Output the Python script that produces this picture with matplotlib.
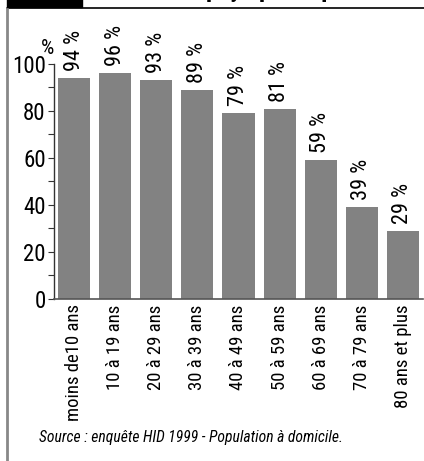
import matplotlib
matplotlib.use("Agg")
import matplotlib.pyplot as plt
from matplotlib import font_manager
from matplotlib.patches import Rectangle
from matplotlib.lines import Line2D

# Age groups and share of people (%)
categories = ["moins de10 ans", "10 à 19 ans", "20 à 29 ans", "30 à 39 ans",
              "40 à 49 ans", "50 à 59 ans", "60 à 69 ans", "70 à 79 ans",
              "80 ans et plus"]
values = [94, 96, 93, 89, 79, 81, 59, 39, 29]
yticks = [0, 20, 40, 60, 80, 100]
title = "Le coût est payé par le patient"
source = "Source : enquête HID 1999 - Population à domicile."

names = {f.name for f in font_manager.fontManager.ttflist}
narrow = "DejaVu Sans"
for cand in ["Liberation Sans Narrow", "Roboto Condensed", "Archivo Narrow",
             "PT Sans Narrow", "Pragati Narrow", "Open Sans Condensed"]:
    if cand in names:
        narrow = cand
        break
plt.rcParams["font.family"] = [narrow, "DejaVu Sans"]

W, H = 424, 461
fig = plt.figure(figsize=(W / 100, H / 100), dpi=100)

def fx(px):
    return px / W

def fy(py):
    return 1 - py / H

# frame: black tab, top rule, grey left rule
fig.patches.append(Rectangle((fx(7), fy(7.5)), fx(75), 7.5 / H + 0.01,
                             transform=fig.transFigure, color="black", zorder=5))
fig.lines.append(Line2D([fx(7), 1], [fy(8), fy(8)], transform=fig.transFigure,
                        color="black", lw=1.2))
fig.lines.append(Line2D([fx(7), fx(7)], [0, fy(8)], transform=fig.transFigure,
                        color="#888888", lw=2))
fig.text(fx(90), fy(-3), title, fontsize=18, fontweight="bold",
         ha="left", va="baseline", color="black")

ax = fig.add_axes([fx(54), fy(298.7), fx(423) - fx(54), fy(64) - fy(298.7)])
x = list(range(len(values)))
bars = ax.bar(x, values, width=0.78, color="#828282", zorder=2)
ax.set_xlim(-0.49, len(values) - 0.51)
ax.set_ylim(0, 100)

for b, v in zip(bars, values):
    ax.annotate(f"{v} %", (b.get_x() + b.get_width() / 2, v),
                xytext=(0, 5), textcoords="offset points", rotation=90,
                ha="center", va="bottom", fontsize=16, clip_on=False)

ax.set_yticks(yticks)
ax.set_yticks(range(10, 100, 20), minor=True)
ax.set_yticklabels([str(t) for t in yticks], fontsize=16.5)
ax.tick_params(axis="y", which="both", direction="out", length=4, width=0.8,
               color="#333333", pad=2)
ax.set_xticks(x)
ax.set_xticklabels(categories, rotation=90, fontsize=13.5, va="top")
ax.tick_params(axis="x", length=0, pad=4)

for s in ("top", "right"):
    ax.spines[s].set_visible(False)
ax.spines["left"].set_color("#333333")
ax.spines["bottom"].set_color("#555555")
ax.spines["left"].set_linewidth(1.0)
ax.spines["bottom"].set_linewidth(1.2)

fig.text(fx(47), fy(48), "%", fontsize=15, ha="center", va="center")
src = fig.text(fx(39), fy(437), source, fontsize=12.5, style="italic",
               ha="left", va="center")

# fit the source line to its column width
renderer = fig.canvas.get_renderer()
w = src.get_window_extent(renderer).width
src.set_fontsize(12.5 * 306 / w)

fig.savefig("out.png", dpi=100)
